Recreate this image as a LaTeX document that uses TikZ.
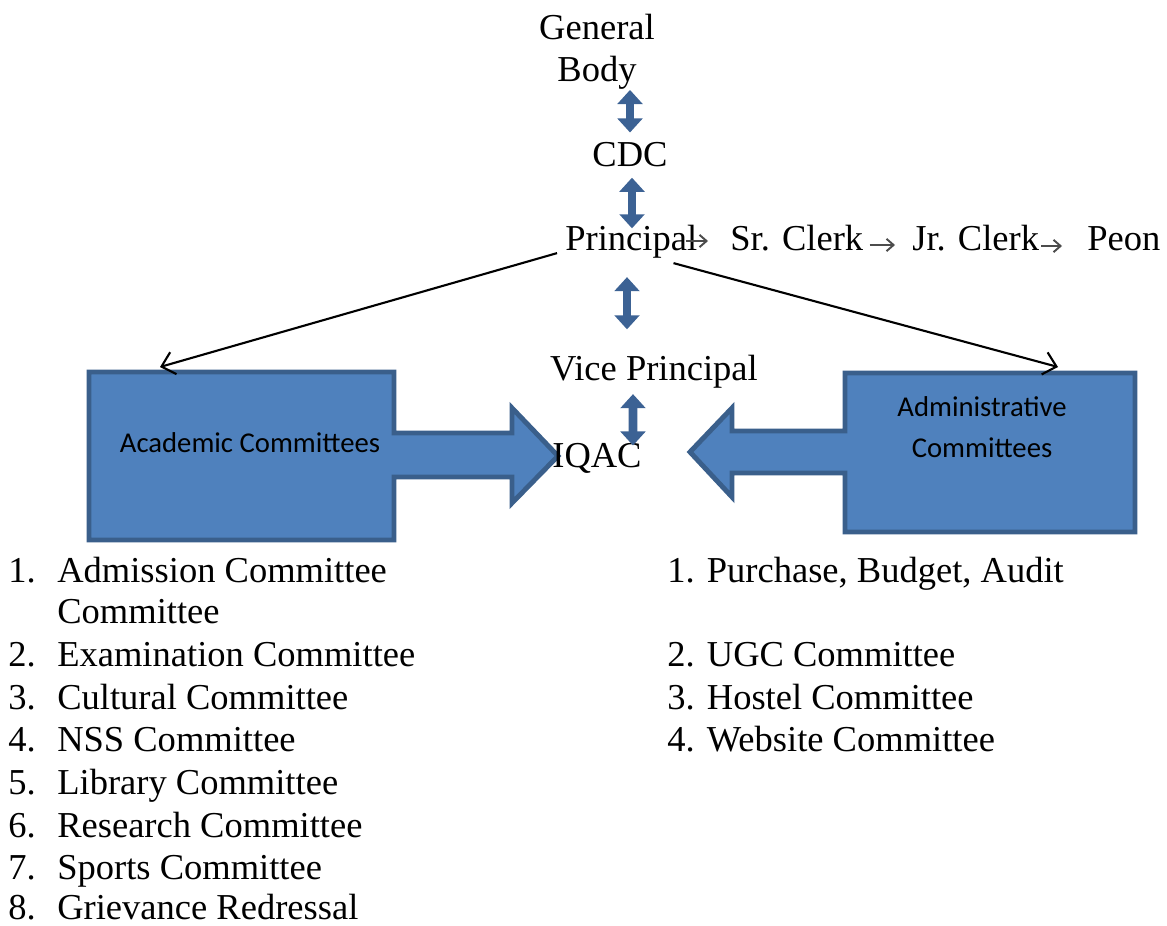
\documentclass[tikz,border=0pt]{standalone}
\usepackage{fontspec}
\setmainfont{Liberation Serif}
\newfontfamily\calfont{Carlito}
\usetikzlibrary{arrows.meta,calc}
\definecolor{boxfill}{HTML}{4F81BD}
\definecolor{boxline}{HTML}{3A5F8B}
\definecolor{dblarrow}{HTML}{3C6294}
\begin{document}
\begin{tikzpicture}[x=0.02cm,y=-0.02cm,
  txt/.style={inner sep=0pt, font=\fontsize{20.78pt}{23.9pt}\selectfont},
  lbl/.style={txt, anchor=base west},
  boxtxt/.style={inner sep=0pt, font=\calfont\fontsize{16.33pt}{23.3pt}\selectfont, align=center},
  dbl/.style={draw=dblarrow, line width=5pt, {Triangle[length=8pt,width=14pt]}-{Triangle[length=8pt,width=14pt]}},
  hier/.style={draw=black, line width=1.2pt, -{Straight Barb[length=7pt,width=13pt]}},
  chain/.style={draw=black!70, line width=1.1pt, -{Straight Barb[length=4pt,width=7pt]}},
  blk/.style={fill=boxfill, draw=boxline, line width=2.8pt, line join=miter}]
\useasboundingbox (0,0) rectangle (1167,926);
\fill[white] (0,0) rectangle (1167,926);

% block shapes with arrows
\path[blk] (89,372) -- (394,372) -- (394,433) -- (512,433) -- (512,408) -- (558,456)
  -- (512,503) -- (512,477) -- (394,477) -- (394,540) -- (89,540) -- cycle;
\path[blk] (1135,373) -- (1135,532) -- (845,532) -- (845,473) -- (732,473) -- (732,497)
  -- (690,452) -- (732,408) -- (732,431) -- (845,431) -- (845,373) -- cycle;
\node[boxtxt] (acad) at (250,443) {Academic Committees};
\node[boxtxt] (admin) at (982,427) {Administrative\\Committees};

% hierarchy texts
\node[txt, align=center] (gb) at (597,52) {General\\Body};
\node[txt, anchor=base] (cdc) at (630,167) {CDC};
\node[lbl] (principal) at (565,250) {Principal};
\node[lbl] (srclerk) at (730,250) {Sr. Clerk};
\node[lbl] (jrclerk) at (912,250) {Jr. Clerk};
\node[lbl] (peon) at (1087,250) {Peon};
\node[txt, anchor=base] (vp) at (654,380) {Vice Principal};
\node[lbl] (iqac) at (552,467) {IQAC};

% double arrows
\draw[dbl] ($(gb.south)+(33,0)$) -- ($(cdc.north)+(0,-10)$);
\draw[dbl] ($(cdc.south)+(2,10)$) -- ($(principal.north west)+(67,4)$);
\draw[dbl] ($(principal.south west)+(62,19)$) -- ($(vp.north)+(-27,-25)$);
\draw[dbl] ($(vp.south)+(-21,6)$) -- ($(iqac.north)+(36,3)$);

% chain arrows
\draw[chain] ($(principal.base east)+(-12,-9)$) -- ($(srclerk.base west)+(-22,-9)$);
\draw[chain] ($(srclerk.base east)+(6,-5)$) -- ($(jrclerk.base west)+(-17,-5)$);
\draw[chain] ($(jrclerk.base east)+(2,-4)$) -- ($(peon.base west)+(-25,-4)$);

% lines to committees
\coordinate (acadtip) at (160,367);
\coordinate (admintip) at (1058,367);
\draw[hier] ($(principal.south west)+(-8,-5)$) -- (acadtip);
\draw[hier] ($(principal.south east)+(-24,5)$) -- (admintip);

% academic list
\node[lbl] (l1) at (8,582) {\makebox[0.98cm][l]{1.}Admission Committee};
\node[lbl] (l1b) at (57,623) {Committee};
\node[lbl] (l2) at (8,666) {\makebox[0.98cm][l]{2.}Examination Committee};
\node[lbl] (l3) at (8,709) {\makebox[0.98cm][l]{3.}Cultural Committee};
\node[lbl] (l4) at (8,751) {\makebox[0.98cm][l]{4.}NSS Committee};
\node[lbl] (l5) at (8,794) {\makebox[0.98cm][l]{5.}Library Committee};
\node[lbl] (l6) at (8,837) {\makebox[0.98cm][l]{6.}Research Committee};
\node[lbl] (l7) at (8,879) {\makebox[0.98cm][l]{7.}Sports Committee};
\node[lbl] (l8) at (8,919) {\makebox[0.98cm][l]{8.}Grievance Redressal};

% administrative list
\node[lbl] (r1) at (667,582) {1. Purchase, Budget, Audit};
\node[lbl] (r2) at (667,666) {2. UGC Committee};
\node[lbl] (r3) at (667,709) {3. Hostel Committee};
\node[lbl] (r4) at (667,751) {4. Website Committee};
\end{tikzpicture}
\end{document}
